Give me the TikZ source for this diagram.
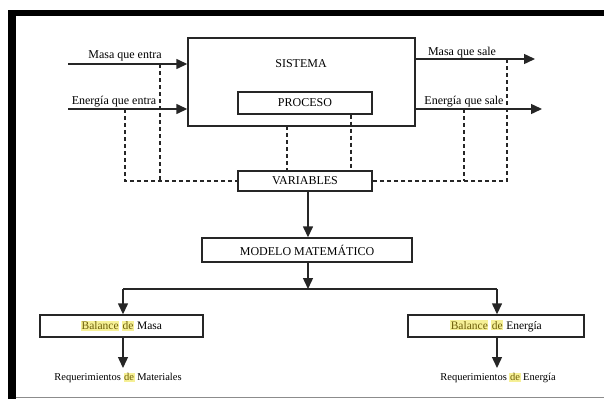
\documentclass[tikz,border=0pt]{standalone}
\usepackage{fontspec}
\setmainfont{Liberation Serif}
\usetikzlibrary{arrows.meta}
\definecolor{hlbg}{RGB}{246,240,150}
\definecolor{hlfg}{RGB}{110,95,10}
\newcommand{\hlword}[1]{{\setlength{\fboxsep}{0.6pt}\colorbox{hlbg}{\textcolor{hlfg}{#1}}}}
\tikzset{
  boxst/.style={draw=black!85, line width=1.4pt, inner sep=0pt},
  flow/.style={line width=1.4pt, draw=black!85, -{Triangle[length=11pt,width=10pt]}},
  plain/.style={line width=1.4pt, draw=black!85},
  dash line/.style={line width=1.3pt, draw=black!85, dash pattern=on 4pt off 3pt},
  lbl/.style={font=\fontsize{12}{14}\selectfont, inner sep=0pt},
  small/.style={font=\fontsize{10.5}{12}\selectfont, inner sep=0pt},
}
\begin{document}
\begin{tikzpicture}[x=1pt, y=-1pt]
\useasboundingbox (0,0) rectangle (604,399);
% page frame
\fill[black] (8,9.5) rectangle (604,16);
\fill[black] (8,9.5) rectangle (15.5,399);
\draw[black!45, line width=1pt] (15.5,397.5) -- (604,397.5);

% system and its parts
\node[boxst, minimum width=227pt, minimum height=88pt] (sis) at (301.5,82) {};
\node[lbl] (sistxt) at (301,64) {SISTEMA};
\node[boxst, minimum width=134pt, minimum height=22pt, lbl] (proc) at (305,103) {PROCESO};
\node[boxst, minimum width=134pt, minimum height=20pt, lbl] (var) at (305,181) {VARIABLES};
\node[boxst, minimum width=210pt, minimum height=24pt, lbl] (mod) at (307,250) {MODELO MATEMÁTICO};
\node[boxst, minimum width=163pt, minimum height=22pt, lbl, font=\fontsize{11.5}{13}\selectfont] (bm) at (121.5,326) {\hlword{Balance} \hlword{de} Masa};
\node[boxst, minimum width=176pt, minimum height=22pt, lbl, font=\fontsize{11.5}{13}\selectfont] (be) at (496,326) {\hlword{Balance} \hlword{de} Energía};
\node[small] (rm) at (118,378) {Requerimientos \hlword{de} Materiales};
\node[small] (re) at (498,378) {Requerimientos \hlword{de} Energía};

% inputs
\coordinate (mi) at (68,64);
\coordinate (ei) at (68,109);
\draw[flow] (mi) -- (mi -| sis.west);
\draw[flow] (ei) -- (ei -| sis.west);
\node[lbl] (mitxt) at (125,56) {Masa que entra};
\node[lbl] (eitxt) at (114,102) {Energía que entra};

% outputs
\coordinate (mo) at (535,59);
\coordinate (eo) at (542,109);
\draw[flow] (mo -| sis.east) -- (mo);
\draw[flow] (eo -| sis.east) -- (eo);
\node[lbl] (motxt) at (462,53) {Masa que sale};
\node[lbl] (eotxt) at (464,102) {Energía que sale};

% measured variables (dashed)
\coordinate (d1) at (160,64);
\coordinate (d2) at (125,109);
\coordinate (d3) at (507,59);
\coordinate (d4) at (464,109);
\draw[dash line] (d1) -- (d1 |- var.west);
\draw[dash line] (d2) -- (d2 |- var.west) -- (var.west);
\draw[dash line] (d3) -- (d3 |- var.east) -- (var.east);
\draw[dash line] (d4) -- (d4 |- var.east);
\coordinate (d5) at (287,126);
\draw[dash line] (d5) -- (d5 |- var.north);
\coordinate (d6) at (351,0);
\draw[dash line] (d6 |- proc.south) -- (d6 |- var.north);

% model chain
\coordinate (vx) at (308,0);
\draw[flow] (vx |- var.south) -- (vx |- mod.north);
\coordinate (split) at (308,289);
\draw[flow] (vx |- mod.south) -- (split);
\coordinate (sl) at (123,289);
\coordinate (sr) at (497,289);
\draw[plain] (sl) -- (sr);
\draw[flow] (sl) -- (sl |- bm.north);
\draw[flow] (sr) -- (sr |- be.north);
\draw[flow] (sl |- bm.south) -- (123,368);
\draw[flow] (sr |- be.south) -- (497,368);
\end{tikzpicture}
\end{document}
